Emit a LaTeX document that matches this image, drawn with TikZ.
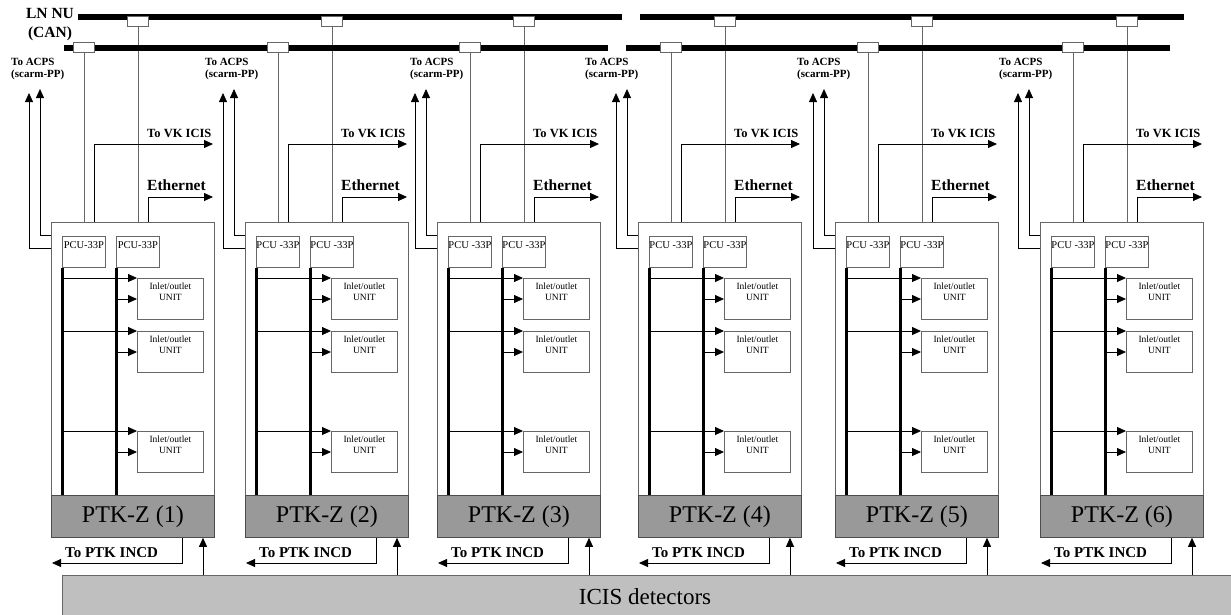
\documentclass[tikz,border=0pt]{standalone}
\usepackage{fontspec}
\setmainfont{Liberation Serif}
\usetikzlibrary{arrows.meta,backgrounds}

\begin{document}
\begin{tikzpicture}[
    x=1pt, y=-1pt,
    modbox/.style={draw=black!60, line width=0.8pt, minimum width=163pt, minimum height=315pt, anchor=north west, inner sep=0pt},
    ptkbox/.style={draw=black!70, line width=0.8pt, fill=black!40, minimum width=163pt, minimum height=42pt, anchor=north west, inner sep=0pt, font=\fontsize{24}{28}\selectfont},
    pcubox/.style={draw=black!60, line width=0.8pt, fill=white, minimum width=43pt, minimum height=31pt, anchor=north west, inner sep=0pt},
    pcutext/.style={anchor=north, inner sep=0pt, yshift=-5pt, font=\fontsize{10.5}{12}\selectfont},
    unitbox/.style={draw=black!60, line width=0.8pt, fill=white, minimum width=66pt, minimum height=41pt, anchor=north west, inner sep=0pt},
    unittext/.style={anchor=north, inner sep=0pt, yshift=-5pt, align=center, font=\fontsize{9.5}{10.5}\selectfont},
    tapbox/.style={draw=black!60, line width=0.8pt, fill=white, minimum width=21pt, minimum height=10pt, anchor=north west, inner sep=0pt},
    canbus/.style={line width=6pt},
    bus/.style={line width=3pt},
    wire/.style={draw=black!60, line width=0.8pt},
    arr/.style={-{Triangle[length=9pt, width=8pt]}, line width=0.8pt},
    acpslbl/.style={anchor=north west, inner sep=0pt, align=left, font=\bfseries\fontsize{11}{12}\selectfont},
    vklbl/.style={anchor=base west, inner sep=0pt, font=\bfseries\fontsize{12.5}{14}\selectfont},
    ethlbl/.style={anchor=base west, inner sep=0pt, font=\bfseries\fontsize{15.5}{18}\selectfont},
    incdlbl/.style={anchor=base west, inner sep=0pt, font=\bfseries\fontsize{15}{18}\selectfont}
  ]
    \useasboundingbox (0,0) rectangle (1231,614);
    \clip (0,0) rectangle (1231,614);

    % CAN buses
    \node[anchor=north, inner sep=0pt, align=center, font=\bfseries\fontsize{15.5}{19}\selectfont] (lnnu) at (50,8) {LN NU\\(CAN)};
    \coordinate (canua) at (78,17);  \coordinate (canub) at (622,17);
    \coordinate (canuc) at (640,17); \coordinate (canud) at (1184,17);
    \coordinate (canla) at (64,47.5);  \coordinate (canlb) at (608,47.5);
    \coordinate (canlc) at (626,47.5); \coordinate (canld) at (1170,47.5);
    \draw[canbus] (canua) -- (canub);
    \draw[canbus] (canuc) -- (canud);
    \draw[canbus] (canla) -- (canlb);
    \draw[canbus] (canlc) -- (canld);

    % detectors
    \node[draw=black!60, line width=0.8pt, fill=black!25, minimum width=1190pt, minimum height=50pt, anchor=north west, inner sep=0pt] (icis) at (62,575) {};
    \node[font=\fontsize{23}{26}\selectfont] (icistext) at (645,597) {ICIS detectors};

    \foreach \i/\L/\tx/\p in {1/51/11/PCU-33P, 2/245/205/PCU -33P, 3/437/410/PCU -33P, 4/638/585/PCU -33P, 5/835/797/PCU -33P, 6/1040/999/PCU -33P} {
      \node[modbox] (m\i) at (\L,222) {};
      \node[ptkbox] (ptk\i) at (\L,495) {PTK-Z (\i)};
      \node[pcubox, label={[pcutext]north:\p}] (pcua\i) at (\L+11,236) {};
      \node[pcubox, label={[pcutext]north:\p}] (pcub\i) at (\L+65,236) {};
      \draw[bus] (pcua\i.south west) -- (pcua\i.south west |- ptk\i.north);
      \draw[bus] (pcub\i.south west) -- (pcub\i.south west |- ptk\i.north);
      \foreach \j/\y in {a/278, b/331, c/431} {
        \node[unitbox, label={[unittext]north:Inlet/outlet\\UNIT}] (u\i\j) at (\L+86,\y) {};
        \coordinate (ul\i\j) at ([yshift=-21pt]u\i\j.north west);
        \draw[arr] (pcua\i.south west |- u\i\j.north west) -- (u\i\j.north west);
        \draw[arr] (pcub\i.south west |- ul\i\j) -- (ul\i\j);
      }

      % taps on the CAN buses
      \node[tapbox] (tapl\i) at (\L+22,42) {};
      \node[tapbox] (tapu\i) at (\L+76,16) {};
      \begin{scope}[on background layer]
        \draw[wire] (tapl\i.south) -- (tapl\i.south |- m\i.north);
        \draw[wire] (tapu\i.south) -- (tapu\i.south |- m\i.north);
      \end{scope}

      % outputs
      \coordinate (vk\i) at (\L+162,144);
      \coordinate (eth\i) at (\L+162,197);
      \draw[arr] ([xshift=43pt]m\i.north west) |- (vk\i);
      \draw[arr] ([xshift=97pt]m\i.north west) |- (eth\i);
      \node[vklbl] (vkt\i) at (\L+96,137) {To VK ICIS};
      \node[ethlbl] (etht\i) at (\L+96,190) {Ethernet};

      \coordinate (acpsa\i) at (\L-22,93);
      \coordinate (acpsb\i) at (\L-11,89);
      \draw[arr] ([yshift=-26pt]m\i.north west) -| (acpsa\i);
      \draw[arr] ([yshift=-13pt]m\i.north west) -| (acpsb\i);
      \node[acpslbl] (acpst\i) at (\tx,58) {To ACPS\\(scarm-PP)};

      \coordinate (incd\i) at (\L+1,563);
      \draw[arr] ([xshift=131pt]ptk\i.south west) |- (incd\i);
      \node[incdlbl] (incdt\i) at (\L+14,557) {To PTK INCD};
      \coordinate (up\i) at ([xshift=152pt]ptk\i.south west);
      \draw[arr] (up\i |- icis.north) -- (up\i);
    }
\end{tikzpicture}
\end{document}
